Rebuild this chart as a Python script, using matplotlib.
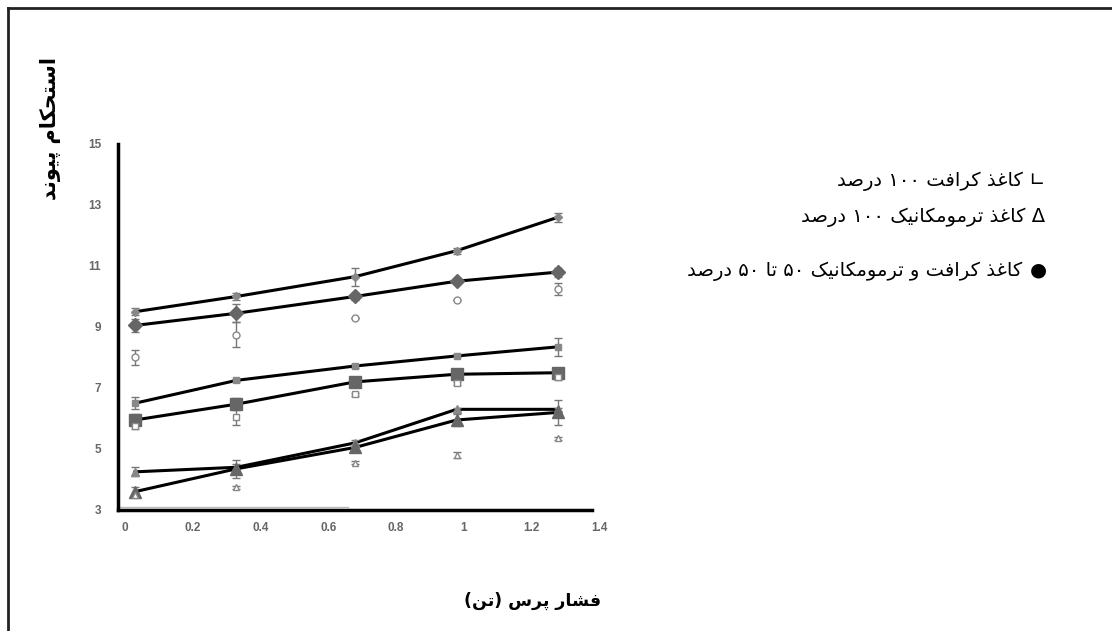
import numpy as np
import matplotlib.pyplot as plt
from matplotlib.transforms import ScaledTranslation

# Press pressure (x) and bond strength values for each paper type
press = [0.05, 0.35, 0.7, 1.0, 1.3]

kraft_top = [9.5, 10.0, 10.65, 11.5, 12.6]
kraft_top_err = [0.12, 0.1, 0.3, 0.1, 0.15]
kraft_mid = [9.05, 9.45, 10.0, 10.5, 10.8]
kraft_mid_err = [0.2, 0.3, 0.1, 0.1, 0.15]
kraft_open = [8.0, 8.75, 9.3, 9.9, 10.25]
kraft_open_err = [0.25, 0.4, 0.0, 0.0, 0.2]

mix_top = [6.5, 7.25, 7.72, 8.05, 8.35]
mix_top_err = [0.2, 0.05, 0.05, 0.05, 0.3]
mix_mid = [5.95, 6.47, 7.2, 7.45, 7.5]
mix_mid_err = [0.2, 0.2, 0.1, 0.05, 0.15]
mix_open = [5.75, 6.05, 6.8, 7.15, 7.35]
mix_open_err = [0.1, 0.25, 0.05, 0.05, 0.1]

tmp_top = [4.25, 4.4, 5.2, 6.3, 6.3]
tmp_top_err = [0.15, 0.1, 0.1, 0.05, 0.05]
tmp_mid = [3.6, 4.35, 5.05, 5.95, 6.2]
tmp_mid_err = [0.15, 0.3, 0.1, 0.2, 0.4]
tmp_open = [3.5, 3.75, 4.55, 4.8, 5.35]
tmp_open_err = [0.05, 0.05, 0.05, 0.1, 0.05]

x_ticks = [0, 0.2, 0.4, 0.6, 0.8, 1.0, 1.2, 1.4]
x_tick_labels = ['0', '0.2', '0.4', '0.6', '0.8', '1', '1.2', '1.4']
y_ticks = [3, 5, 7, 9, 11, 13, 15]

y_title = 'استحکام پیوند'
x_title = 'فشار پرس (تن)'
legend_lines = ['∟ کاغذ کرافت ۱۰۰ درصد',
                'Δ کاغذ ترمومکانیک ۱۰۰ درصد',
                'کاغذ کرافت و ترمومکانیک ۵۰ تا ۵۰ درصد']

# contextual forms: isolated, final, initial, medial
FORMS = {
    'ا': ('\uFE8D', '\uFE8E', None, None),
    'ب': ('\uFE8F', '\uFE90', '\uFE91', '\uFE92'),
    'پ': ('\uFB56', '\uFB57', '\uFB58', '\uFB59'),
    'ت': ('\uFE95', '\uFE96', '\uFE97', '\uFE98'),
    'ح': ('\uFEA1', '\uFEA2', '\uFEA3', '\uFEA4'),
    'د': ('\uFEA9', '\uFEAA', None, None),
    'ذ': ('\uFEAB', '\uFEAC', None, None),
    'ر': ('\uFEAD', '\uFEAE', None, None),
    'س': ('\uFEB1', '\uFEB2', '\uFEB3', '\uFEB4'),
    'ش': ('\uFEB5', '\uFEB6', '\uFEB7', '\uFEB8'),
    'ص': ('\uFEB9', '\uFEBA', '\uFEBB', '\uFEBC'),
    'غ': ('\uFECD', '\uFECE', '\uFECF', '\uFED0'),
    'ف': ('\uFED1', '\uFED2', '\uFED3', '\uFED4'),
    'ک': ('\uFB8E', '\uFB8F', '\uFB90', '\uFB91'),
    'م': ('\uFEE1', '\uFEE2', '\uFEE3', '\uFEE4'),
    'ن': ('\uFEE5', '\uFEE6', '\uFEE7', '\uFEE8'),
    'و': ('\uFEED', '\uFEEE', None, None),
    'ی': ('\uFBFC', '\uFBFD', '\uFBFE', '\uFBFF'),
}
DIGITS = set('۰۱۲۳۴۵۶۷۸۹0123456789')
MIRROR = {'(': ')', ')': '('}


def shape(text):
    out = []
    for i, ch in enumerate(text):
        if ch not in FORMS:
            out.append(ch)
            continue
        prev = text[i - 1] if i > 0 else ''
        nxt = text[i + 1] if i + 1 < len(text) else ''
        join_prev = prev in FORMS and FORMS[prev][2] is not None
        join_next = FORMS[ch][2] is not None and nxt in FORMS
        if join_prev and join_next:
            out.append(FORMS[ch][3])
        elif join_prev:
            out.append(FORMS[ch][1])
        elif join_next:
            out.append(FORMS[ch][2])
        else:
            out.append(FORMS[ch][0])
    # right-to-left: reverse, but keep digit runs in reading order
    rev = [MIRROR.get(c, c) for c in reversed(out)]
    res, run = [], []
    for c in rev:
        if c in DIGITS:
            run.append(c)
        else:
            res.extend(reversed(run))
            run = []
            res.append(c)
    res.extend(reversed(run))
    return ''.join(res)


plt.rcParams['font.family'] = ['DejaVu Sans']

fig = plt.figure(figsize=(11.12, 6.31), dpi=100)
ax = fig.add_axes([0.1061, 0.1918, 0.4263, 0.58])

ebar = dict(ecolor='#777777', elinewidth=1, capsize=3, capthick=1, ls='none', zorder=3)


def series(y, err, marker, size, face, edge, line=True):
    if line:
        ax.plot(press, y, color='black', lw=2.2, zorder=2)
    ax.errorbar(press, y, yerr=err, marker=marker, ms=size, mfc=face,
                mec=edge, mew=1, **ebar)


series(kraft_top, kraft_top_err, 'D', 4, '#888888', '#888888')
series(kraft_mid, kraft_mid_err, 'D', 7, '#666666', '#666666')
series(kraft_open, kraft_open_err, 'o', 5, 'white', '#888888', line=False)
series(mix_top, mix_top_err, 's', 5, '#888888', '#888888')
series(mix_mid, mix_mid_err, 's', 8, '#666666', '#666666')
series(mix_open, mix_open_err, 's', 5, 'white', '#888888', line=False)
series(tmp_top, tmp_top_err, '^', 6, '#888888', '#888888')
series(tmp_mid, tmp_mid_err, '^', 9, '#666666', '#666666')
series(tmp_open, tmp_open_err, '^', 5, 'white', '#888888', line=False)

# faint stray rule near the bottom
ax.plot([0.0, 0.68], [3.1, 3.1], color='#bbbbbb', lw=1, zorder=1)

ax.set_xlim(0, 1.4)
ax.set_ylim(3, 15)
ax.set_xticks(x_ticks)
ax.set_xticklabels(x_tick_labels)
ax.set_yticks(y_ticks)
for side in ['top', 'right']:
    ax.spines[side].set_visible(False)
for side in ['left', 'bottom']:
    ax.spines[side].set_linewidth(2.5)
    ax.spines[side].set_color('black')
ax.tick_params(length=0, labelsize=8.5, labelcolor='#666666')
ax.tick_params(axis='x', pad=9)
ax.tick_params(axis='y', pad=12)
shift = ScaledTranslation(7 / 100, 0, fig.dpi_scale_trans)
for lab in ax.get_xticklabels():
    lab.set_transform(lab.get_transform() + shift)
for lab in ax.get_xticklabels() + ax.get_yticklabels():
    lab.set_fontweight('bold')
    lab.set_fontfamily('Liberation Sans')

fig.text(0.045, 0.797, shape(y_title), rotation=90, ha='center', va='center',
         fontsize=15, fontweight='bold')
fig.text(0.479, 0.047, shape(x_title), ha='center', va='center',
         fontsize=12.5, fontweight='bold')

fig.text(0.94, 0.713, shape(legend_lines[0]), ha='right', va='center', fontsize=14)
fig.text(0.94, 0.655, shape(legend_lines[1]), ha='right', va='center', fontsize=14)
fig.text(0.919, 0.570, shape(legend_lines[2]), ha='right', va='center', fontsize=14)
fig.text(0.934, 0.572, '●', ha='center', va='center', fontsize=14)

# outer frame (left and top edges)
fig.add_artist(plt.Line2D([0.0072, 0.0072], [0.0, 0.987], color='#222222', lw=2,
                          transform=fig.transFigure))
fig.add_artist(plt.Line2D([0.0072, 1.0], [0.987, 0.987], color='#222222', lw=2,
                          transform=fig.transFigure))

fig.savefig('out.png', dpi=100, facecolor='white')
